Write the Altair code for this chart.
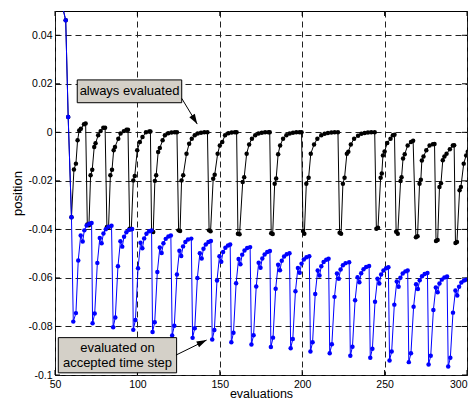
import math
import altair as alt
import pandas as pd

# ---------------- data ----------------
black_x = [52.0, 56.5, 58.0, 60.0, 61.5, 62.7, 63.7, 64.7, 65.7, 67.6, 68.6,
           69.6, 70.6, 71.6, 72.6, 73.8, 74.6, 76.2, 77.7, 79.3, 80.4,
           81.5, 82.5, 83.6, 84.6, 85.6, 86.4, 88.4, 89.8, 91.8, 93.4, 94.3,
           95.3, 96.3, 97.5, 98.4, 99.9, 101.5, 103.1, 105.2, 107.2, 107.9,
           108.6, 109.6, 110.6, 111.4, 112.6, 113.6, 115.3, 116.7, 118.7, 120.7, 122.7, 124.0,
           125.0, 125.9, 126.8, 127.8, 129.8, 131.4, 133.0, 134.8, 136.6, 138.6, 140.6, 142.5,
           143.5, 144.4, 146.0, 146.9, 148.7, 150.0, 151.5, 153.2, 155.2, 157.2, 159.2, 160.2,
           161.0, 162.0, 163.9, 164.8, 166.3, 167.8, 169.5, 171.5, 173.5, 175.5, 177.5, 179.5, 180.3,
           181.2, 182.1, 183.3, 184.2, 185.4, 186.6, 188.4, 190.4, 192.4, 194.4, 196.4, 198.4, 199.6,
           200.5, 201.3, 202.5, 203.9, 205.2, 207.2, 209.2, 211.6, 213.6, 215.6, 217.7, 219.7, 221.7,
           222.7, 223.6, 224.7, 225.7, 227.1, 228.0, 229.5, 231.5, 233.9, 235.9, 237.9, 239.9, 241.9, 244.0,
           245.0, 246.0, 247.6, 248.3, 249.0, 250.0, 251.6, 253.6, 255.0, 256.0,
           257.0, 258.0, 259.7, 260.3, 261.2, 262.2, 264.0, 266.0, 267.3,
           269.0, 270.0, 271.2, 272.0, 272.6, 273.6, 275.3, 277.3, 279.3, 280.3,
           281.2, 282.2, 283.3, 284.2, 285.3, 286.3, 287.6, 289.6, 291.4, 292.2,
           293.0, 293.9, 295.5, 296.3, 298.0, 299.5, 300.5]
black_y = [0.059, 0.0462, 0.0063, -0.0350, -0.0153, -0.0129, -0.0033, 0.0008, 0.0015, 0.0033, 0.0036,
           -0.0380, -0.0383, -0.0177, -0.0154, -0.0060, -0.0045, -0.0012, 0.0005, 0.0019, 0.0019,
           -0.0390, -0.0392, -0.0177, -0.0154, -0.0074, -0.0060, -0.0026, -0.0005, 0.0005, 0.0011, 0.0011,
           -0.0397, -0.0399, -0.0198, -0.0180, -0.0074, -0.0040, -0.0019, 0.0000, 0.0003, 0.0003,
           -0.0408, -0.0411, -0.0200, -0.0177, -0.0081, -0.0065, -0.0033, -0.0012, -0.0004, -0.0001, 0.0000, 0.0000,
           -0.0404, -0.0407, -0.0198, -0.0177, -0.0088, -0.0047, -0.0026, -0.0012, -0.0005, -0.0002, 0.0000, 0.0000,
           -0.0404, -0.0408, -0.0191, -0.0175, -0.0088, -0.0054, -0.0040, -0.0012, -0.0004, -0.0001, 0.0000, 0.0000,
           -0.0418, -0.0420, -0.0205, -0.0185, -0.0088, -0.0050, -0.0026, -0.0012, -0.0005, -0.0002, 0.0000, 0.0000, 0.0000,
           -0.0416, -0.0419, -0.0212, -0.0190, -0.0090, -0.0054, -0.0026, -0.0012, -0.0005, -0.0002, 0.0000, 0.0000, 0.0000,
           -0.0407, -0.0418, -0.0212, -0.0187, -0.0088, -0.0050, -0.0026, -0.0012, -0.0006, -0.0003, -0.0001, 0.0000, 0.0000,
           -0.0414, -0.0418, -0.0212, -0.0187, -0.0088, -0.0080, -0.0050, -0.0026, -0.0014, -0.0006, -0.0003, -0.0001, 0.0000, 0.0000,
           -0.0397, -0.0393, -0.0187, -0.0170, -0.0095, -0.0079, -0.0044, -0.0026, -0.0012, -0.0010,
           -0.0410, -0.0418, -0.0201, -0.0185, -0.0108, -0.0090, -0.0054, -0.0040, -0.0035,
           -0.0432, -0.0428, -0.0212, -0.0195, -0.0116, -0.0100, -0.0074, -0.0054, -0.0049, -0.0048,
           -0.0448, -0.0444, -0.0225, -0.0210, -0.0115, -0.0100, -0.0088, -0.0070, -0.0054, -0.0053,
           -0.0456, -0.0452, -0.0239, -0.0225, -0.0129, -0.0095, -0.0080]

blue_x = [52.0, 56.5, 58.0, 60.0,
          61.1, 62.7, 64.1, 65.6, 66.8, 67.8, 69.2, 70.8, 72.2,
          72.8, 74.1, 75.7, 77.2, 78.3, 79.4, 80.8, 82.4, 84.3,
          85.3, 86.6, 88.2, 89.7, 90.8, 91.9, 93.3, 94.9, 96.8,
          97.5, 98.8, 100.4, 101.9, 103.0, 104.1, 105.5, 107.1, 108.6,
          109.2, 110.5, 112.1, 113.6, 114.7, 115.8, 117.2, 118.8, 120.3,
          121.1, 122.4, 124.0, 125.5, 126.6, 127.7, 129.1, 130.7, 132.7,
          133.5, 134.8, 136.4, 137.9, 139.0, 140.1, 141.5, 143.1, 144.6,
          145.4, 146.7, 148.3, 149.8, 150.9, 152.0, 153.4, 155.0, 156.3,
          157.0, 158.3, 159.9, 161.4, 162.5, 163.6, 165.0, 166.6, 168.4,
          169.2, 170.5, 172.1, 173.6, 174.7, 175.8, 177.2, 178.8, 180.4,
          181.0, 182.3, 183.9, 185.4, 186.5, 187.6, 189.0, 190.6, 192.3,
          193.0, 194.3, 195.9, 197.4, 198.5, 199.6, 201.0, 202.6, 204.3,
          205.0, 206.3, 207.9, 209.4, 210.5, 211.6, 213.0, 214.6, 216.0,
          216.7, 218.0, 219.6, 221.1, 222.2, 223.3, 224.7, 226.3, 228.5,
          229.2, 230.5, 232.1, 233.6, 234.7, 235.8, 237.2, 238.8, 240.6,
          241.3, 242.6, 244.2, 245.7, 246.8, 247.9, 249.3, 250.9, 252.3,
          253.0, 254.3, 255.9, 257.4, 258.5, 259.6, 261.0, 262.6, 264.0,
          264.7, 266.0, 267.6, 269.1, 270.2, 271.3, 272.7, 274.3, 276.0,
          276.7, 278.0, 279.6, 281.1, 282.2, 283.3, 284.7, 286.3, 287.9,
          288.6, 289.9, 291.5, 293.0, 294.1, 295.2, 296.6, 298.2, 299.5]
blue_y = [0.059, 0.0462, 0.0063, -0.0350,
          -0.0780, -0.0745, -0.0528, -0.0425, -0.0450, -0.0404, -0.0384, -0.0377, -0.0374,
          -0.0787, -0.0747, -0.0538, -0.0435, -0.0457, -0.0417, -0.0399, -0.0389, -0.0385,
          -0.0803, -0.0763, -0.0552, -0.0449, -0.0471, -0.0430, -0.0412, -0.0402, -0.0398,
          -0.0814, -0.0773, -0.0560, -0.0455, -0.0478, -0.0437, -0.0418, -0.0408, -0.0404,
          -0.0823, -0.0783, -0.0576, -0.0475, -0.0497, -0.0457, -0.0439, -0.0429, -0.0425,
          -0.0837, -0.0797, -0.0586, -0.0488, -0.0510, -0.0470, -0.0452, -0.0442, -0.0438,
          -0.0847, -0.0807, -0.0600, -0.0498, -0.0520, -0.0480, -0.0462, -0.0452, -0.0448,
          -0.0854, -0.0815, -0.0611, -0.0511, -0.0533, -0.0493, -0.0476, -0.0466, -0.0462,
          -0.0865, -0.0826, -0.0622, -0.0522, -0.0544, -0.0504, -0.0487, -0.0477, -0.0473,
          -0.0874, -0.0836, -0.0635, -0.0537, -0.0558, -0.0520, -0.0503, -0.0493, -0.0489,
          -0.0885, -0.0846, -0.0645, -0.0546, -0.0568, -0.0529, -0.0512, -0.0502, -0.0498,
          -0.0890, -0.0852, -0.0655, -0.0559, -0.0579, -0.0541, -0.0524, -0.0515, -0.0511,
          -0.0903, -0.0865, -0.0666, -0.0569, -0.0590, -0.0552, -0.0534, -0.0525, -0.0521,
          -0.0910, -0.0873, -0.0678, -0.0582, -0.0603, -0.0565, -0.0548, -0.0539, -0.0535,
          -0.0921, -0.0884, -0.0692, -0.0597, -0.0618, -0.0581, -0.0564, -0.0555, -0.0551,
          -0.0929, -0.0892, -0.0698, -0.0603, -0.0623, -0.0586, -0.0569, -0.0560, -0.0556,
          -0.0940, -0.0903, -0.0710, -0.0615, -0.0636, -0.0599, -0.0582, -0.0573, -0.0569,
          -0.0947, -0.0910, -0.0719, -0.0626, -0.0646, -0.0610, -0.0593, -0.0584, -0.0580,
          -0.0957, -0.0921, -0.0732, -0.0639, -0.0659, -0.0623, -0.0607, -0.0598, -0.0594,
          -0.0965, -0.0929, -0.0743, -0.0652, -0.0672, -0.0636, -0.0619, -0.0611, -0.0607]

x_ticks = [50, 100, 150, 200, 250, 300]
y_ticks = [-0.1, -0.08, -0.06, -0.04, -0.02, 0, 0.02, 0.04]
x_domain = [50, 300]
y_domain = [-0.1, 0.05]

x_title = "evaluations"
y_title = "position"

note1_text = "always evaluated"
note1_box = [63.5, 126.9, 0.0122, 0.0216]          # x1, x2, y1, y2 (data units)
note1_arrow = [126.9, 0.0140, 136.3, 0.0034]       # from (x, y) to tip (x, y)
note2_lines = ["evaluated on", "accepted time step"]
note2_box = [52.0, 123.8, -0.0991, -0.0846]
note2_arrow = [123.4, -0.0918, 142.0, -0.0856]

assert len(black_x) == len(black_y)
assert len(blue_x) == len(blue_y)

# ---------------- layout / style ----------------
# page is 476x408 with an 8px body margin -> the svg must stay within 460x392
W, H = 412, 364
PAD = {"left": 47, "top": 3, "right": 1, "bottom": 25}
FONT = "Liberation Sans, Arial, sans-serif"
LINE_H = 15

black_df = pd.DataFrame({"x": black_x, "y": black_y, "i": range(len(black_x))})
blue_df = pd.DataFrame({"x": blue_x, "y": blue_y, "i": range(len(blue_x))})

xscale = alt.Scale(domain=x_domain, nice=False, zero=False)
yscale = alt.Scale(domain=y_domain, nice=False, zero=False)

xaxis = alt.Axis(values=x_ticks, title=x_title, grid=True, tickSize=0, domain=False,
                 labelFlush=False, labelOverlap=False, labelPadding=4,
                 labelAlign={"expr": f"datum.value >= {x_domain[1]} ? 'right' : 'center'"},
                 labelFont=FONT, labelFontSize=10.5, labelColor="black",
                 titleFont=FONT, titleFontSize=12.5, titleFontWeight="normal",
                 titleColor="black", titleBaseline="alphabetic", titleY=PAD["bottom"] - 3,
                 gridColor="#222", gridDash=[6, 4], gridWidth=1)
yaxis = alt.Axis(values=y_ticks, title=y_title, grid=True, tickSize=0, domain=False,
                 format=".2~f",
                 labelFlush=False, labelOverlap=False, labelPadding=3,
                 labelExpr="replace(datum.label, '\u2212', '-')",
                 labelFont=FONT, labelFontSize=10.5, labelColor="black",
                 titleFont=FONT, titleFontSize=13, titleFontWeight="normal",
                 titleColor="black", titlePadding=4,
                 gridColor="#222", gridDash=[6, 4], gridWidth=1)


def X(field):
    return alt.X(field, type="quantitative", scale=xscale, axis=xaxis)


def Y(field):
    return alt.Y(field, type="quantitative", scale=yscale, axis=yaxis)


# series
black_line = alt.Chart(black_df).mark_line(color="black", strokeWidth=1, clip=True).encode(
    x=X("x"), y=Y("y"), order="i:Q")
black_pts = alt.Chart(black_df).mark_point(color="black", filled=True, size=20, opacity=1,
                                            clip=True).encode(x=X("x"), y=Y("y"))
blue_line = alt.Chart(blue_df).mark_line(color="#0000ff", strokeWidth=1, clip=True).encode(
    x=X("x"), y=Y("y"), order="i:Q")
blue_pts = alt.Chart(blue_df).mark_point(color="#0000ff", filled=True, size=20, opacity=1,
                                          clip=True).encode(x=X("x"), y=Y("y"))

# inward tick marks on all four sides
yt_df = pd.DataFrame({"v": y_ticks})
xt_df = pd.DataFrame({"v": x_ticks})
TL = 5
ytick_l = alt.Chart(yt_df).mark_rule(color="black").encode(
    y=Y("v"), x=alt.value(0), x2=alt.value(TL))
ytick_r = alt.Chart(yt_df).mark_rule(color="black").encode(
    y=Y("v"), x=alt.value(W - TL), x2=alt.value(W))
xtick_b = alt.Chart(xt_df).mark_rule(color="black").encode(
    x=X("v"), y=alt.value(H - TL), y2=alt.value(H))
xtick_t = alt.Chart(xt_df).mark_rule(color="black").encode(
    x=X("v"), y=alt.value(0), y2=alt.value(TL))

# annotations
BOX_FILL = "#d4d0c8"


def box_layers(box, lines):
    df = pd.DataFrame({"x1": [box[0]], "x2": [box[1]], "y1": [box[2]], "y2": [box[3]],
                       "cx": [(box[0] + box[1]) / 2], "cy": [(box[2] + box[3]) / 2],
                       "t": ["\n".join(lines)]})
    rect = alt.Chart(df).mark_rect(fill=BOX_FILL, stroke="black", strokeWidth=1).encode(
        x=X("x1"), x2="x2", y=Y("y1"), y2="y2")
    txt = alt.Chart(df).mark_text(font=FONT, fontSize=13, color="black", align="center",
                                  baseline="middle", lineBreak="\n", lineHeight=LINE_H,
                                  dy=-(len(lines) - 1) * LINE_H / 2).encode(
        x=X("cx"), y=Y("cy"), text="t:N")
    return rect + txt


def px_dx(d):
    return d * W / (x_domain[1] - x_domain[0])


def px_dy(d):
    return -d * H / (y_domain[1] - y_domain[0])


def arrow_layers(a):
    df = pd.DataFrame({"x": [a[0]], "y": [a[1]], "x2": [a[2]], "y2": [a[3]]})
    dx = px_dx(a[2] - a[0])
    dy = px_dy(a[3] - a[1])
    ang = math.degrees(math.atan2(dx, -dy)) % 360
    line = alt.Chart(df).mark_rule(color="black", strokeWidth=1).encode(
        x=X("x"), y=Y("y"), x2="x2", y2="y2")
    head = alt.Chart(df).mark_point(shape="M0,0 L-0.32,1 L0.32,1 Z", filled=True,
                                    color="black", opacity=1, size=400,
                                    angle=ang).encode(x=X("x2"), y=Y("y2"))
    return line + head


chart = alt.layer(
    ytick_l, ytick_r, xtick_b, xtick_t,
    black_line, black_pts, blue_line, blue_pts,
    box_layers(note1_box, [note1_text]), arrow_layers(note1_arrow),
    box_layers(note2_box, note2_lines), arrow_layers(note2_arrow),
).properties(
    width=W, height=H,
    autosize=alt.AutoSizeParams(type="none"),
    padding=PAD,
    background="white",
).configure_view(stroke="black", strokeWidth=1)

chart.save("out.html", embed_options={"renderer": "svg", "actions": False})
